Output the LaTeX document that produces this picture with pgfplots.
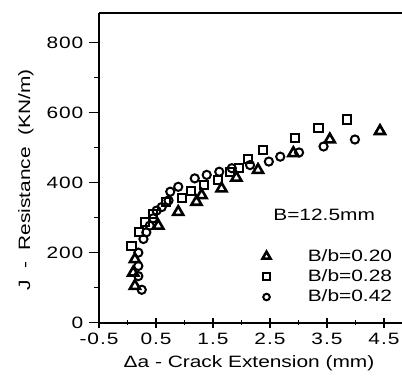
\documentclass[border=0pt]{standalone}
\usepackage{pgfplots}
\pgfplotsset{compat=1.18}
\usepackage{fontspec}
\setmainfont[FakeStretch=1.27]{Liberation Sans}
\newfontfamily\tickfont[FakeStretch=1.27,LetterSpace=6]{Liberation Sans}
\begin{document}
\fontsize{16.5}{20}\selectfont
\begin{tikzpicture}
\path[use as bounding box] (-99bp,-55.3bp) rectangle (303bp,322.7bp);
\begin{axis}[
  scale only axis, width=303bp, height=310bp,
  xmin=-0.5, xmax=4.816, ymin=0, ymax=885,
  axis x line=box, axis y line=left,
  axis line style={line width=1.7bp, -},
  xtick={-0.5,0.5,1.5,2.5,3.5,4.5},
  xticklabels={{\tickfont -0.5},{\tickfont 0.5},{\tickfont 1.5},{\tickfont 2.5},{\tickfont 3.5},{\tickfont 4.5}},
  minor xtick={0,1,2,3,4},
  ytick={0,200,400,600,800},
  yticklabels={{\tickfont 0},{\tickfont 200},{\tickfont 400},{\tickfont 600},{\tickfont 800}},
  minor ytick={100,300,500,700},
  xtick pos=bottom, ytick pos=left,
  xtick align=center, ytick align=outside,
  major tick length=10bp, minor tick length=5bp,
  every tick/.style={black, line width=1.5bp},
  /pgf/number format/assume math mode=true,
  xlabel={Δa - Crack Extension (mm)},
  ylabel={J\ \ -\ \ Resistance\ \ (KN/m)},
  xlabel style={at={(axis description cs:0.495,-0.13)}, anchor=center},
  ylabel style={at={(axis description cs:-0.241,0.46)}, anchor=center},
  legend style={draw=none, fill=none,
    at={(axis cs:2.22,222)}, anchor=north west, row sep=2bp},
  legend image code/.code={\path (0bp,0bp) (46bp,0bp); \draw[#1,mark options={scale=0.8}] plot coordinates {(8bp,0bp)};},
  legend cell align=left,
]
\addplot[only marks, mark=triangle, mark size=5.8bp, draw=black, line width=2.6bp]
coordinates {(0.13,105) (0.10,143) (0.13,181) (0.54,277) (0.89,316) (1.21,345) (1.30,364) (1.65,383) (1.91,414) (2.29,436) (2.91,484) (3.55,523) (4.43,547)};
\addlegendentry{B/b=0.20}
\addplot[only marks, mark=square, mark size=4.1bp, draw=black, line width=2bp]
coordinates {(0.07,220) (0.20,258) (0.31,287) (0.45,311) (0.68,345) (0.95,357) (1.11,376) (1.34,393) (1.59,407) (1.80,431) (1.95,441) (2.12,468) (2.38,494) (2.94,528) (3.35,556) (3.85,580)};
\addlegendentry{B/b=0.28}
\addplot[only marks, mark=o, mark size=4.1bp, draw=black, line width=2bp]
coordinates {(0.25,94) (0.19,133) (0.19,162) (0.19,200) (0.28,239) (0.33,258) (0.39,277) (0.45,298) (0.51,320) (0.60,330) (0.72,349) (0.75,374) (0.89,388) (1.18,412) (1.39,422) (1.61,431) (1.83,441) (2.15,450) (2.48,460) (2.68,474) (3.01,486) (3.44,503) (3.99,523)};
\addlegendentry{B/b=0.42}
\node at (axis cs:3.45,309) {B=12.5mm};
\end{axis}
\end{tikzpicture}
\end{document}
